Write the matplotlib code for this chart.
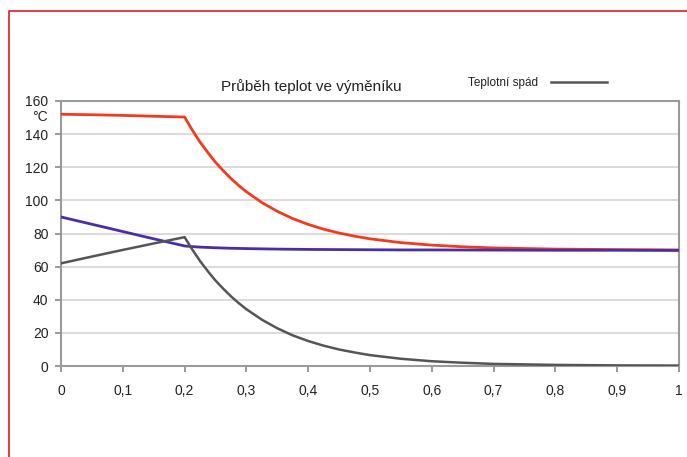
import matplotlib.pyplot as plt
from matplotlib.lines import Line2D

# poloha ve výměníku (relativní délka)
x = [0, 0.05, 0.1, 0.15, 0.2, 0.2125, 0.225, 0.2375, 0.25, 0.2625, 0.275,
     0.2875, 0.3, 0.325, 0.35, 0.375, 0.4, 0.425, 0.45, 0.475, 0.5, 0.55,
     0.6, 0.65, 0.7, 0.8, 0.9, 1.0]

# teplota ohřívacího média
t_hot = [152, 151.7, 151.3, 150.8, 150.3, 142.4, 135.2, 128.9, 123.0, 117.9,
         113.2, 109.0, 105.2, 98.7, 93.4, 89.0, 85.5, 82.6, 80.3, 78.4, 76.8,
         74.5, 73.0, 72.0, 71.3, 70.6, 70.3, 70.1]

# teplota ohřívaného média
t_cold = [90, 85.6, 81.2, 76.8, 72.5, 72.1, 71.8, 71.6, 71.4, 71.25, 71.1,
          71.0, 70.9, 70.75, 70.6, 70.5, 70.4, 70.35, 70.3, 70.25, 70.2, 70.1,
          70.1, 70.05, 70.0, 69.9, 69.9, 69.8]

# teplotní spád
t_diff = [62, 66.1, 70.1, 74.0, 77.8, 70.3, 63.4, 57.3, 51.6, 46.7, 42.1,
          38.0, 34.3, 28.0, 22.8, 18.5, 15.1, 12.3, 10.0, 8.2, 6.6, 4.4,
          2.9, 2.0, 1.3, 0.7, 0.4, 0.3]

xticks = [0, 0.1, 0.2, 0.3, 0.4, 0.5, 0.6, 0.7, 0.8, 0.9, 1.0]
xtick_labels = ["0", "0,1", "0,2", "0,3", "0,4", "0,5", "0,6", "0,7", "0,8", "0,9", "1"]
yticks = [0, 20, 40, 60, 80, 100, 120, 140, 160]

plt.rcParams["font.family"] = ["Liberation Sans", "DejaVu Sans"]

fig = plt.figure(figsize=(6.87, 4.57), dpi=100)
ax = fig.add_axes([0.0888, 0.199, 0.8996, 0.580])

ax.plot(x, t_hot, color="#f53a1c", lw=2.0, zorder=3)
ax.plot(x, t_cold, color="#4a2ea6", lw=2.0, zorder=3)
ax.plot(x, t_diff, color="#555555", lw=1.8, zorder=4)

ax.set_xlim(0, 1)
ax.set_ylim(0, 160)
ax.set_xticks(xticks)
ax.set_xticklabels(xtick_labels)
ax.set_yticks(yticks)
ax.tick_params(labelsize=10, colors="#888888", labelcolor="#222222",
               length=4, width=1.2)
ax.tick_params(axis="x", pad=9)
ax.tick_params(axis="y", pad=5)
ax.grid(axis="y", color="#d4d4d4", lw=1.2)
ax.set_axisbelow(True)
for s in ax.spines.values():
    s.set_color("#9a9a9a")
    s.set_linewidth(1.5)

fig.text(0.069, 0.745, "°C", fontsize=10, color="#222222", ha="right", va="center")

fig.text(0.453, 0.81, "Průběh teplot ve výměníku", fontsize=11,
         color="#222222", ha="center", va="center")
fig.text(0.681, 0.818, "Teplotní spád", fontsize=8.5, color="#222222",
         ha="left", va="center")
fig.add_artist(Line2D([0.802, 0.884], [0.821, 0.821], color="#555555", lw=1.8))

# červený rámeček
fig.add_artist(Line2D([0.0131, 0.0131, 1.0], [0.0, 0.976, 0.976],
                      color="#e01b2a", lw=1.2))

fig.savefig("out.png", dpi=100)
